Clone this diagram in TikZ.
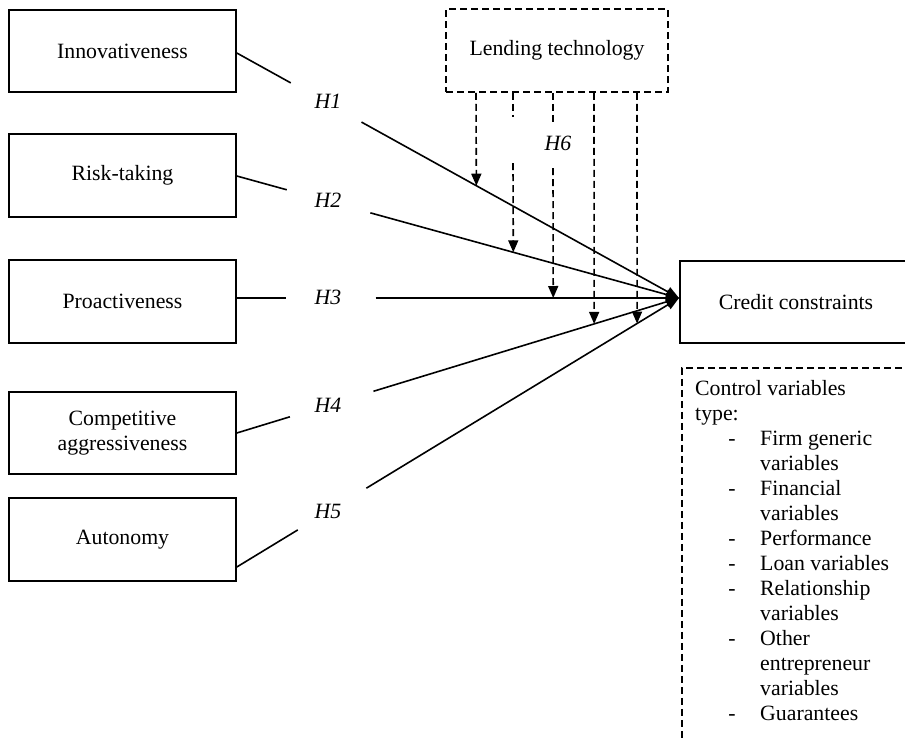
\documentclass[tikz,border=0pt]{standalone}
\usepackage{fontspec}
\setmainfont{Liberation Serif}
\usetikzlibrary{arrows.meta,calc}
\begin{document}
\begin{tikzpicture}[x=1pt,y=-1pt,
  box/.style={draw,line width=1.6pt,inner sep=0pt,align=center,font=\fontsize{21.8}{25}\selectfont},
  lbl/.style={inner sep=0pt,font=\fontsize{21.8}{25}\selectfont},
  hyp/.style={inner sep=0pt,font=\fontsize{21.8}{25}\selectfont\itshape},
  link/.style={line width=1.6pt},
  mainarr/.style={line width=1.6pt,-{Triangle[length=13pt,width=10pt]}},
  modline/.style={line width=1.6pt,dash pattern=on 7pt off 4pt},
  modarr/.style={modline,-{Triangle[length=12pt,width=10pt]}},
  dbox/.style={draw,line width=1.6pt,dash pattern=on 7pt off 4pt,inner sep=0pt,font=\fontsize{21.8}{25}\selectfont}]
\useasboundingbox (0,0) rectangle (905,739);

% left constructs
\node[box,minimum width=227pt,minimum height=82pt] (inno) at (122.5,51) {Innovativeness};
\node[box,minimum width=227pt,minimum height=83pt] (risk) at (122.5,175.5) {Risk-taking};
\node[box,minimum width=227pt,minimum height=83pt] (pro) at (122.5,301.5) {Proactiveness};
\node[box,minimum width=227pt,minimum height=82pt] (comp) at (122.5,433) {Competitive\\aggressiveness};
\node[box,minimum width=227pt,minimum height=83pt] (auto) at (122.5,539.5) {Autonomy};

% outcome and moderator
\node[box,minimum width=232pt,minimum height=82pt] (credit) at (796,302) {Credit constraints};
\node[dbox,minimum width=222pt,minimum height=83pt] (lend) at (557,50.5) {Lending technology};
\node[dbox,minimum width=249pt,minimum height=393pt,anchor=north west] (ctrl) at (681,367) {};

\coordinate (tip) at (679,298);
\coordinate (s1) at (inno.east |- 0,53);
\coordinate (s2) at (risk.east |- 0,176);
\coordinate (s3) at (pro.east |- 0,298);
\coordinate (s4) at (comp.east |- 0,433);
\coordinate (s5) at (auto.east |- 0,567);

% hypotheses paths
\draw[link] (s1) -- ($(s1)!0.122!(tip)$);
\draw[mainarr] ($(s1)!0.282!(tip)$) -- (tip);
\draw[link] (s2) -- ($(s2)!0.113!(tip)$);
\draw[mainarr] ($(s2)!0.302!(tip)$) -- (tip);
\draw[link] (s3) -- ($(s3)!0.111!(tip)$);
\draw[mainarr] ($(s3)!0.314!(tip)$) -- (tip);
\draw[link] (s4) -- ($(s4)!0.120!(tip)$);
\draw[mainarr] ($(s4)!0.309!(tip)$) -- (tip);
\draw[link] (s5) -- ($(s5)!0.138!(tip)$);
\draw[mainarr] ($(s5)!0.293!(tip)$) -- (tip);

\node[hyp] (h1) at (328,101) {H1};
\node[hyp] (h2) at (328,200) {H2};
\node[hyp] (h3) at (328,297) {H3};
\node[hyp] (h4) at (328,405) {H4};
\node[hyp] (h5) at (328,511) {H5};
\node[hyp] (h6) at (558,143) {H6};

% moderating arrows
\draw[modarr] (lend.south -| 476,0) -- ($(s1)!{(476-236)/443}!(tip)$);
\draw[modline] (lend.south -| 513,0) -- (513,117);
\draw[modarr] (513,163) -- ($(s2)!{(513-236)/443}!(tip)$);
\draw[modline] (lend.south -| 553,0) -- (553,125);
\draw[modarr] (553,168) -- ($(s3)!{(553-236)/443}!(tip)$);
\draw[modarr] (lend.south -| 594,0) -- ($(s4)!{(594-236)/443}!(tip)$);
\draw[modarr] (lend.south -| 637,0) -- ($(s5)!{(637-236)/443}!(tip)$);

% control variables text
\foreach \i/\k/\t in {1/0/Control variables, 2/0/type:, 3/1/Firm generic, 4/2/variables,
  5/1/Financial, 6/2/variables, 7/1/Performance, 8/1/Loan variables, 9/1/Relationship,
  10/2/variables, 11/1/Other, 12/2/entrepreneur, 13/2/variables, 14/1/Guarantees}{
  \pgfmathsetmacro\yy{395+25*(\i-1)}
  \ifcase\k
    \node[lbl,anchor=base west] (cv\i) at (695,\yy) {\t};
  \or
    \node[lbl,anchor=base] (cd\i) at (732,\yy) {-};
    \node[lbl,anchor=base west] (cv\i) at (760,\yy) {\t};
  \or
    \node[lbl,anchor=base west] (cv\i) at (760,\yy) {\t};
  \fi
}
\end{tikzpicture}
\end{document}
